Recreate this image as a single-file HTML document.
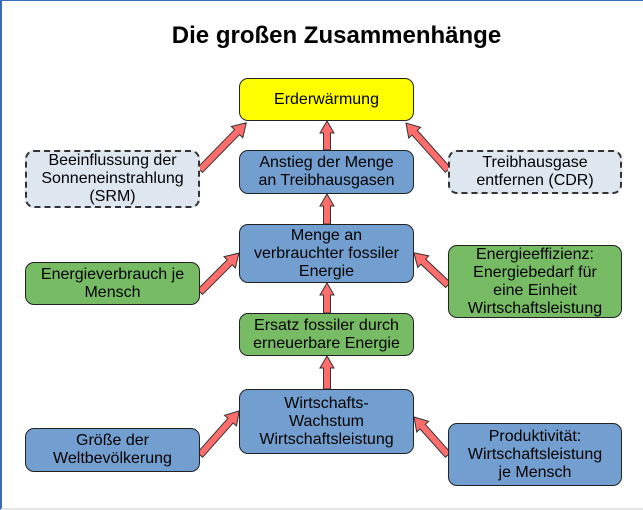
<!DOCTYPE html>
<html><head><meta charset="utf-8"><style>
html,body{margin:0;padding:0;}
body{width:643px;height:510px;position:relative;background:#fff;font-family:"Liberation Sans",Arial,sans-serif;overflow:hidden;}
.frame{position:absolute;left:0;top:0;width:643px;height:510px;box-sizing:border-box;border-left:2px solid #3a6db5;border-top:1px solid #3a6db5;border-bottom:2px solid #e6e6e6;}
h1{position:absolute;left:15px;width:643px;top:22px;margin:0;text-align:center;font-size:24px;font-weight:bold;color:#000;}
.b{position:absolute;box-sizing:border-box;border:1.5px solid #222;border-radius:9px;display:flex;align-items:center;justify-content:center;text-align:center;font-size:16px;line-height:18px;color:#000;}
.y{background:#ffff00}.bl{background:#729fcf}.g{background:#77bc65}.d{background:#dee6ef;border:2px dashed #333}
svg{position:absolute;left:0;top:0}
</style></head><body>
<div class="frame"></div>
<h1>Die großen Zusammenhänge</h1>
<svg width="643" height="510">
<g fill="#ff6d6d" stroke="#333" stroke-width="1">
<g transform="translate(327,150) rotate(-90)"><polygon points="0,-3.5 17,-3.5 17,-7 29,0 17,7 17,3.5 0,3.5"/></g>
<g transform="translate(327,224) rotate(-90)"><polygon points="0,-3.5 18,-3.5 18,-7 30,0 18,7 18,3.5 0,3.5"/></g>
<g transform="translate(327,313) rotate(-90)"><polygon points="0,-3.5 18,-3.5 18,-7 30,0 18,7 18,3.5 0,3.5"/></g>
<g transform="translate(327,389) rotate(-90)"><polygon points="0,-3.5 21,-3.5 21,-7 33,0 21,7 21,3.5 0,3.5"/></g>
<g transform="translate(200,170) rotate(-45.6)"><polygon points="0,-3.5 53,-3.5 53,-8 66,0 53,8 53,3.5 0,3.5"/></g>
<g transform="translate(448,170) rotate(-131.8)"><polygon points="0,-3.5 50,-3.5 50,-8 63,0 50,8 50,3.5 0,3.5"/></g>
<g transform="translate(200,292) rotate(-45)"><polygon points="0,-3.5 42,-3.5 42,-8 55,0 42,8 42,3.5 0,3.5"/></g>
<g transform="translate(448,285) rotate(-136.7)"><polygon points="0,-3.5 34,-3.5 34,-8 47,0 34,8 34,3.5 0,3.5"/></g>
<g transform="translate(200,455) rotate(-48.4)"><polygon points="0,-3.5 46,-3.5 46,-8 59,0 46,8 46,3.5 0,3.5"/></g>
<g transform="translate(448,455) rotate(-131.8)"><polygon points="0,-3.5 38,-3.5 38,-8 51,0 38,8 38,3.5 0,3.5"/></g>
</g></svg>
<div class="b y" style="left:239px;top:78px;width:175px;height:43px">Erderwärmung</div>
<div class="b bl" style="left:239px;top:150px;width:175px;height:44px">Anstieg der Menge<br>an Treibhausgasen</div>
<div class="b d" style="left:25px;top:150px;width:175px;height:58px">Beeinflussung der<br>Sonneneinstrahlung<br>(SRM)</div>
<div class="b d" style="left:448px;top:150px;width:174px;height:44px">Treibhausgase<br>entfernen (CDR)</div>
<div class="b bl" style="left:239px;top:224px;width:175px;height:59px">Menge an<br>verbrauchter fossiler<br>Energie</div>
<div class="b g" style="left:25px;top:262px;width:175px;height:43px">Energieverbrauch je<br>Mensch</div>
<div class="b g" style="left:448px;top:245px;width:174px;height:73px">Energieeffizienz:<br>Energiebedarf für<br>eine Einheit<br>Wirtschaftsleistung</div>
<div class="b g" style="left:239px;top:313px;width:175px;height:43px">Ersatz fossiler durch<br>erneuerbare Energie</div>
<div class="b bl" style="left:239px;top:389px;width:175px;height:65px">Wirtschafts-<br>Wachstum<br>Wirtschaftsleistung</div>
<div class="b bl" style="left:25px;top:428px;width:175px;height:44px">Größe der<br>Weltbevölkerung</div>
<div class="b bl" style="left:448px;top:423px;width:174px;height:63px">Produktivität:<br>Wirtschaftsleistung<br>je Mensch</div>
</body></html>
